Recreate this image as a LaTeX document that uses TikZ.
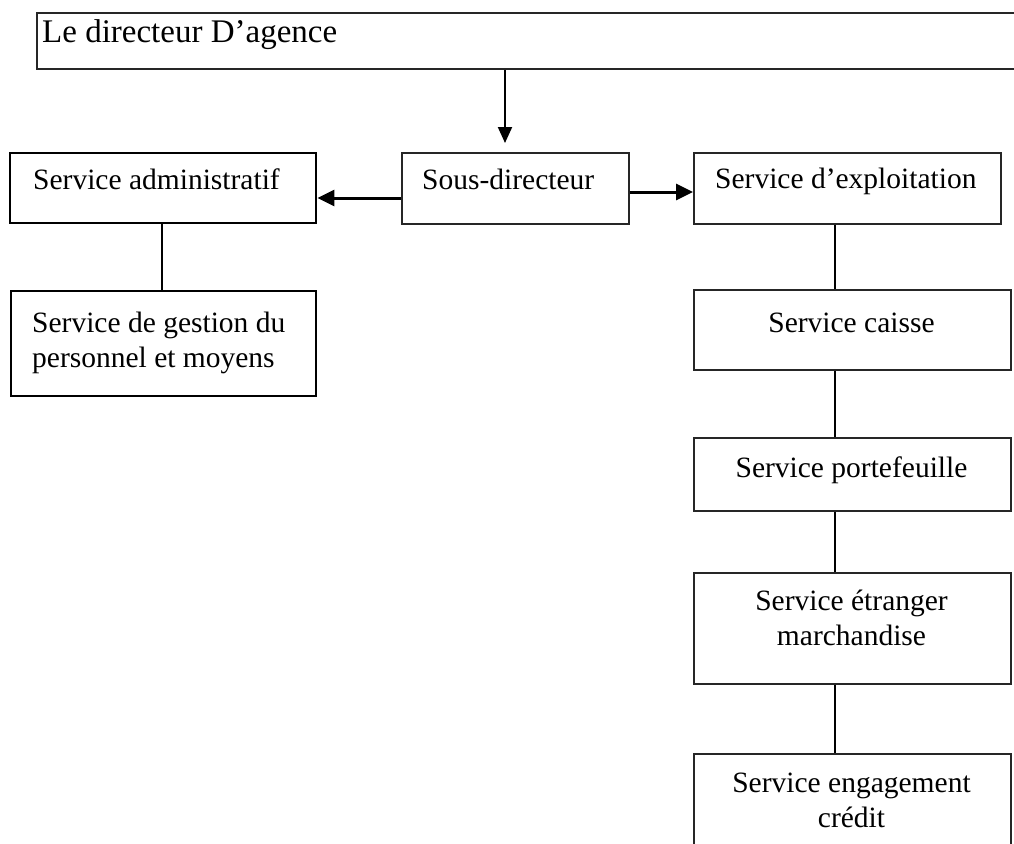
\documentclass[tikz,border=0pt]{standalone}
\usepackage{fontspec}
\setmainfont{Liberation Serif}
\usetikzlibrary{arrows.meta}
\begin{document}
\begin{tikzpicture}[x=1pt,y=-1pt,
  box/.style={draw=black!85,line width=1.6pt,rectangle,inner sep=0pt,anchor=north west},
  boldbox/.style={box,draw=black,line width=2.4pt},
  txt/.style={inner sep=0pt,font=\fontsize{29.5}{35}\selectfont},
  bigtxt/.style={inner sep=0pt,font=\fontsize{33}{38}\selectfont},
  link/.style={draw=black,line width=2pt},
  thickarrow/.style={draw=black,line width=3pt,-{Triangle[length=17pt,width=16pt]}},
  downarrow/.style={draw=black,line width=2pt,-{Triangle[length=16pt,width=14pt]}}]
\useasboundingbox (0,0) rectangle (1014,843);
\clip (0,0) rectangle (1014,843);
% boxes
\node[box,minimum width=1000pt,minimum height=56pt] (dir) at (36,12) {};
\node[bigtxt,anchor=base west] (dirT) at (42,43) {Le directeur D’agence};
\node[box,minimum width=227pt,minimum height=71pt] (sous) at (401,152) {};
\node[txt,anchor=base west] (sousT) at (422,189) {Sous-directeur};
\node[boldbox,minimum width=306pt,minimum height=70pt] (adm) at (9,152) {};
\node[txt,anchor=base west] (admT) at (33,189) {Service administratif};
\node[boldbox,minimum width=305pt,minimum height=105pt] (ges) at (10,290) {};
\node[txt,anchor=base west,align=left] (gesT) at (32,367) {Service de gestion du\\personnel et moyens};
\node[box,minimum width=307pt,minimum height=71pt] (exp) at (693,152) {};
\node[txt,anchor=base west] (expT) at (715,188) {Service d’exploitation};
\node[box,minimum width=317pt,minimum height=80pt] (cai) at (693,289) {};
\node[txt,anchor=base] (caiT) at (851.5,332) {Service caisse};
\node[box,minimum width=317pt,minimum height=73pt] (por) at (693,437) {};
\node[txt,anchor=base] (porT) at (851.5,477) {Service portefeuille};
\node[box,minimum width=317pt,minimum height=111pt] (etr) at (693,572) {};
\node[txt,anchor=base,align=center] (etrT) at (851.5,645) {Service étranger\\marchandise};
\node[box,minimum width=317pt,minimum height=120pt] (eng) at (693,753) {};
\node[txt,anchor=base,align=center] (engT) at (851.5,827) {Service engagement\\crédit};
% connectors
\coordinate (tip) at (505,143);
\draw[downarrow] (dir.south -| tip) -- (tip);
\draw[thickarrow] (sous.west |- 0,198) -- (adm.east |- 0,198);
\draw[thickarrow] (sous.east |- 0,192) -- (exp.west |- 0,192);
\draw[link] (adm.south -| 162,0) -- (ges.north -| 162,0);
\draw[link] (exp.south -| 835,0) -- (cai.north -| 835,0);
\draw[link] (cai.south -| 835,0) -- (por.north -| 835,0);
\draw[link] (por.south -| 835,0) -- (etr.north -| 835,0);
\draw[link] (etr.south -| 835,0) -- (eng.north -| 835,0);
\end{tikzpicture}
\end{document}
